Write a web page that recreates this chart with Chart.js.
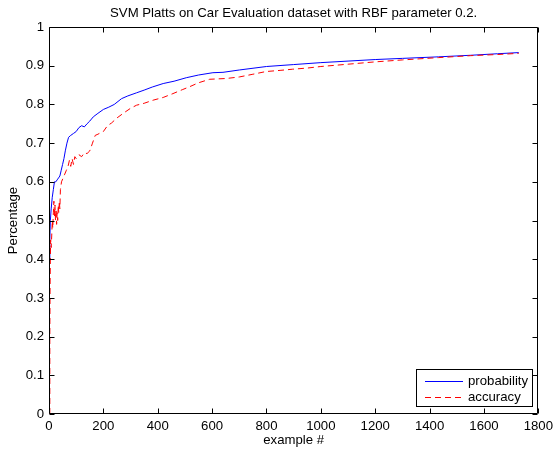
<!DOCTYPE html>
<html><head><meta charset="utf-8">
<script src="https://cdn.jsdelivr.net/npm/chart.js@4/dist/chart.umd.min.js"></script>
<style>html,body{margin:0;padding:0;background:#fff;overflow:hidden}</style>
</head><body>
<canvas id="c" width="557" height="449" style="width:557px;height:449px;display:block"></canvas>
<script>
const chartTitle = "SVM Platts on Car Evaluation dataset with RBF parameter 0.2.";
const xLabel = "example #";
const yLabel = "Percentage";
const seriesNames = ["probability", "accuracy"];
const xTicks = [0, 200, 400, 600, 800, 1000, 1200, 1400, 1600, 1800];
const yTicks = [0, 0.1, 0.2, 0.3, 0.4, 0.5, 0.6, 0.7, 0.8, 0.9, 1];

const probX = [2, 3, 5, 8, 12, 16, 20, 25, 30, 35, 40, 45, 50, 55, 60, 66, 72, 80, 90, 100, 110, 120, 130, 140, 150, 163, 180, 200, 220, 240, 267, 290, 322, 350, 380, 420, 460, 505, 550, 603, 640, 700, 800, 900, 1000, 1100, 1200, 1300, 1433, 1550, 1650, 1728];
const probY = [0.40, 0.45, 0.50, 0.53, 0.56, 0.58, 0.60, 0.60, 0.605, 0.61, 0.615, 0.63, 0.645, 0.66, 0.68, 0.70, 0.715, 0.72, 0.725, 0.73, 0.74, 0.745, 0.742, 0.75, 0.757, 0.768, 0.777, 0.787, 0.793, 0.80, 0.815, 0.822, 0.830, 0.837, 0.845, 0.854, 0.860, 0.869, 0.876, 0.882, 0.883, 0.889, 0.898, 0.903, 0.908, 0.912, 0.916, 0.919, 0.923, 0.927, 0.931, 0.934];

const accX = [3, 3, 4, 5, 6, 8, 10, 12, 14, 16, 18, 20, 22, 24, 26, 28, 30, 32, 34, 36, 38, 40, 42, 46, 52, 58, 64, 70, 75, 80, 85, 90, 95, 100, 110, 120, 130, 140, 150, 160, 170, 180, 190, 200, 215, 230, 250, 273, 300, 322, 350, 383, 420, 456, 490, 518, 550, 591, 620, 652, 700, 750, 798, 850, 896, 950, 1000, 1100, 1200, 1300, 1433, 1550, 1650, 1728];
const accY = [0.0, 0.20, 0.33, 0.40, 0.45, 0.43, 0.46, 0.50, 0.48, 0.52, 0.55, 0.51, 0.54, 0.50, 0.53, 0.49, 0.52, 0.50, 0.54, 0.52, 0.55, 0.53, 0.58, 0.60, 0.61, 0.62, 0.63, 0.64, 0.655, 0.64, 0.66, 0.645, 0.665, 0.66, 0.67, 0.665, 0.675, 0.673, 0.68, 0.70, 0.72, 0.723, 0.727, 0.73, 0.745, 0.752, 0.765, 0.777, 0.79, 0.798, 0.803, 0.811, 0.818, 0.828, 0.838, 0.846, 0.856, 0.865, 0.866, 0.867, 0.871, 0.878, 0.885, 0.888, 0.891, 0.894, 0.898, 0.904, 0.910, 0.915, 0.921, 0.926, 0.929, 0.932];

const FONT = "'Liberation Sans', Arial, Helvetica, sans-serif";
const FS = 13.2;

const framePlugin = {
  id: 'frame',
  afterDatasetsDraw(chart) {
    const {ctx, chartArea: a, scales} = chart;
    ctx.save();
    ctx.strokeStyle = '#000';
    ctx.lineWidth = 1;
    const L = Math.round(a.left) + 0.5, R = Math.round(a.right) - 0.5;
    const T = Math.round(a.top) + 0.5, B = Math.round(a.bottom) - 0.5;
    ctx.beginPath();
    ctx.rect(L, T, R - L, B - T);
    const tl = 5;
    xTicks.forEach(v => {
      const px = Math.round(scales.x.getPixelForValue(v)) + 0.5;
      ctx.moveTo(px, B); ctx.lineTo(px, B - tl);
      ctx.moveTo(px, T); ctx.lineTo(px, T + tl);
    });
    yTicks.forEach(v => {
      const py = Math.round(scales.y.getPixelForValue(v)) + 0.5;
      ctx.moveTo(L, py); ctx.lineTo(L + tl, py);
      ctx.moveTo(R, py); ctx.lineTo(R - tl, py);
    });
    ctx.stroke();

    // legend box
    const bx = 416.5, by = 369.5, bw = 116, bh = 37;
    ctx.fillStyle = '#fff';
    ctx.fillRect(bx, by, bw, bh);
    ctx.strokeRect(bx, by, bw, bh);
    ctx.font = FS + "px " + FONT;
    ctx.textBaseline = 'middle';
    ctx.textAlign = 'left';
    chart.data.datasets.forEach((ds, i) => {
      const ly = Math.round(by + 11 + i * 16) + 0.5;
      ctx.beginPath();
      ctx.strokeStyle = ds.borderColor;
      ctx.setLineDash(ds.borderDash || []);
      ctx.moveTo(425, ly); ctx.lineTo(463, ly);
      ctx.stroke();
      ctx.setLineDash([]);
      ctx.fillStyle = '#000';
      ctx.fillText(ds.label, 468, ly);
    });
    ctx.restore();
  }
};

new Chart(document.getElementById('c'), {
  type: 'line',
  data: {
    datasets: [
      {
        label: seriesNames[0],
        data: probX.map((x, i) => ({x, y: probY[i]})),
        borderColor: '#0000ff',
        borderWidth: 1,
        pointRadius: 0,
        tension: 0,
        fill: false,
        order: 2
      },
      {
        label: seriesNames[1],
        data: accX.map((x, i) => ({x, y: accY[i]})),
        borderColor: '#ff0000',
        borderWidth: 1,
        borderDash: [6, 4],
        pointRadius: 0,
        tension: 0,
        fill: false,
        order: 1
      }
    ]
  },
  options: {
    responsive: false,
    devicePixelRatio: 1,
    animation: false,
    events: [],
    layout: {padding: {left: 0, right: 18, top: 0, bottom: 0}},
    plugins: {
      legend: {display: false},
      tooltip: {enabled: false},
      title: {
        display: true,
        fullSize: false,
        text: chartTitle,
        color: '#000',
        font: {family: FONT, size: FS, weight: 'normal'},
        padding: {top: 5, bottom: 6.2}
      }
    },
    scales: {
      x: {
        type: 'linear',
        min: 0, max: 1800,
        afterBuildTicks(s) { s.ticks = xTicks.map(v => ({value: v})); },
        afterFit(s) { s.height = 35; },
        ticks: {
          color: '#000',
          font: {family: FONT, size: FS},
          padding: 4,
          maxRotation: 0,
          autoSkip: false,
          callback: v => String(v)
        },
        grid: {display: false, drawTicks: false},
        border: {display: false},
        title: {
          display: true,
          text: xLabel,
          color: '#000',
          font: {family: FONT, size: FS},
          padding: {top: 0, bottom: 1}
        }
      },
      y: {
        type: 'linear',
        min: 0, max: 1,
        afterBuildTicks(s) { s.ticks = yTicks.map(v => ({value: v})); },
        afterFit(s) { s.width = 49; },
        ticks: {
          color: '#000',
          font: {family: FONT, size: FS},
          padding: 5,
          autoSkip: false,
          callback: v => String(Math.round(v * 10) / 10)
        },
        grid: {display: false, drawTicks: false},
        border: {display: false},
        title: {
          display: true,
          text: yLabel,
          color: '#000',
          font: {family: FONT, size: FS},
          padding: {top: 5, bottom: 0}
        }
      }
    }
  },
  plugins: [framePlugin]
});
</script>
</body></html>
